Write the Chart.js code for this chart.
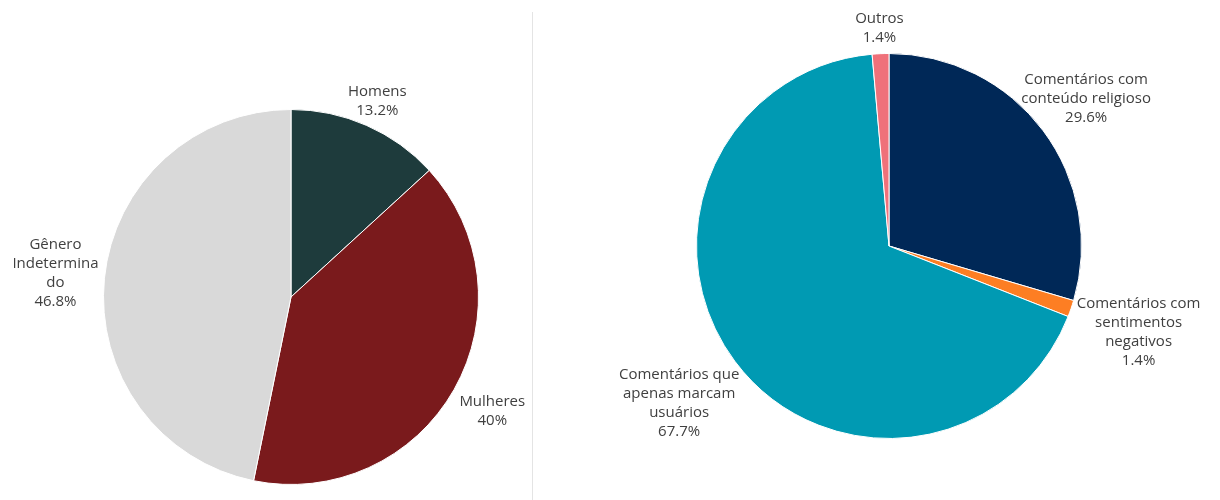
<!DOCTYPE html>
<html>
<head>
<meta charset="utf-8">
<script src="https://cdn.jsdelivr.net/npm/chart.js@4/dist/chart.umd.min.js"></script>
<style>
  html, body { margin: 0; padding: 0; background: #fff; }
  #wrap { position: relative; width: 1220px; height: 500px; }
  #left { position: absolute; left: 0; top: 0; width: 532px; height: 500px; }
  #right { position: absolute; left: 532px; top: 0; width: 688px; height: 500px; }
  #divider { position: absolute; left: 532px; top: 12px; width: 1px; height: 488px; background: #e4e4e4; }
</style>
</head>
<body>
<div id="wrap">
  <div id="left"><canvas id="genderChart"></canvas></div>
  <div id="divider"></div>
  <div id="right"><canvas id="commentChart"></canvas></div>
</div>
<script>
// left pie: gender of commenters
var genderLabels = ['Homens', 'Mulheres', ['Gênero', 'Indetermina', 'do']];
var genderValues = [13.2, 40, 46.8];
var genderColors = ['#1e3b3c', '#7a1a1c', '#d9d9d9'];

// right pie: comment type
var commentLabels = [
    ['Comentários com', 'conteúdo religioso'],
    ['Comentários com', 'sentimentos', 'negativos'],
    ['Comentários que', 'apenas marcam', 'usuários'],
    'Outros'
];
var commentValues = [29.6, 1.4, 67.7, 1.4];
var commentColors = ['#002857', '#fd7e23', '#009ab3', '#ef717a'];

// draws name + percentage outside each slice
var sliceLabels = {
    id: 'sliceLabels',
    afterDatasetsDraw: function(chart, args, opts) {
        var ctx = chart.ctx;
        var meta = chart.getDatasetMeta(0);
        var values = chart.data.datasets[0].data;
        ctx.save();
        ctx.font = opts.font;
        ctx.fillStyle = opts.color;
        ctx.textAlign = 'center';
        ctx.textBaseline = 'middle';
        meta.data.forEach(function(arc, i) {
            var p = arc.getProps(['x', 'y', 'startAngle', 'endAngle', 'outerRadius'], true);
            var mid = (p.startAngle + p.endAngle) / 2;
            var dx = Math.cos(mid), dy = Math.sin(mid);
            var name = chart.data.labels[i];
            var lines = (Array.isArray(name) ? name : [name]).concat([values[i] + '%']);
            var lh = opts.lineHeight;
            var w = Math.max.apply(null, lines.map(function(l) { return ctx.measureText(l).width; }));
            var h = lines.length * lh;
            var ex = Math.abs(dx) > 1e-6 ? w / 2 / Math.abs(dx) : Infinity;
            var ey = Math.abs(dy) > 1e-6 ? h / 2 / Math.abs(dy) : Infinity;
            var d = p.outerRadius + opts.gap + Math.min(ex, ey);
            var cx = p.x + dx * d, cy = p.y + dy * d;
            lines.forEach(function(l, j) {
                ctx.fillText(l, cx, cy - h / 2 + lh * (j + 0.5));
            });
        });
        ctx.restore();
    }
};

function makePie(id, labels, values, colors, padding) {
    return new Chart(document.getElementById(id), {
        type: 'pie',
        data: {
            labels: labels,
            datasets: [{
                data: values,
                backgroundColor: colors,
                borderColor: '#ffffff',
                borderWidth: 1
            }]
        },
        options: {
            responsive: true,
            maintainAspectRatio: false,
            animation: false,
            layout: { padding: padding },
            plugins: {
                legend: { display: false },
                tooltip: { enabled: false },
                sliceLabels: {
                    font: '15px "Open Sans"',
                    color: '#404040',
                    lineHeight: 19,
                    gap: 6
                }
            }
        },
        plugins: [sliceLabels]
    });
}

makePie('genderChart', genderLabels, genderValues, genderColors,
    { left: 103, right: 53, top: 109, bottom: 15 });
makePie('commentChart', commentLabels, commentValues, commentColors,
    { left: 164, right: 138, top: 53, bottom: 61 });
</script>
</body>
</html>
